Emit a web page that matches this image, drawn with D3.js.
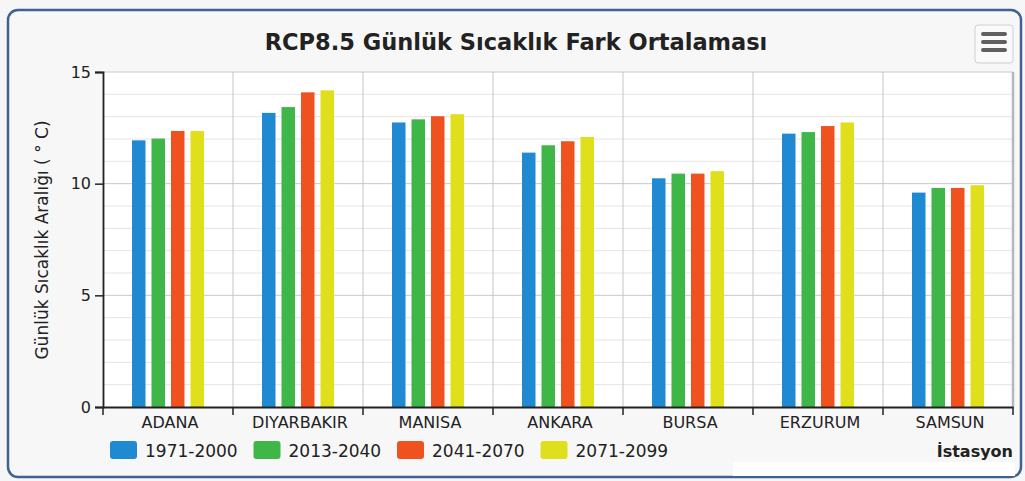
<!DOCTYPE html>
<html>
<head>
<meta charset="utf-8">
<script src="https://cdn.jsdelivr.net/npm/d3@7"></script>
<style>
  html, body { margin: 0; padding: 0; background: #f6f6f6; }
  svg { display: block; }
  text { font-family: "DejaVu Sans", sans-serif; fill: #222; }
</style>
</head>
<body>
<svg id="chart" width="1025" height="481"></svg>
<script>
// Stations (categories) along the x axis
const stations = ["ADANA", "DIYARBAKIR", "MANISA", "ANKARA", "BURSA", "ERZURUM", "SAMSUN"];
// Periods (series)
const periods = ["1971-2000", "2013-2040", "2041-2070", "2071-2099"];
// Mean daily temperature range (°C) per station, one array per period
const v1971_2000 = [11.94, 13.17, 12.74, 11.39, 10.24, 12.24, 9.60];
const v2013_2040 = [12.02, 13.43, 12.88, 11.72, 10.45, 12.31, 9.81];
const v2041_2070 = [12.36, 14.09, 13.02, 11.90, 10.45, 12.58, 9.81];
const v2071_2099 = [12.36, 14.18, 13.11, 12.09, 10.56, 12.74, 9.93];
const seriesValues = [v1971_2000, v2013_2040, v2041_2070, v2071_2099];
const seriesColors = ["#1f8ad2", "#3fb648", "#f0521f", "#dfdf1c"];
// Axis ticks
const yMajorTicks = [0, 5, 10, 15];
const yMinorTicks = d3.range(0, 16, 1);

const svg = d3.select("#chart");
const condensed = "DejaVu Sans Condensed, DejaVu Sans, sans-serif";

// Outer chart frame
svg.append("rect")
  .attr("x", 8).attr("y", 10).attr("width", 1013).attr("height", 467)
  .attr("rx", 10).attr("ry", 10)
  .attr("fill", "#f7f7f7")
  .attr("stroke", "#3f6290").attr("stroke-width", 2.5);

// Bright strip along the lower right of the frame
svg.append("rect")
  .attr("x", 733).attr("y", 462).attr("width", 282).attr("height", 14)
  .attr("fill", "#ffffff");

const plot = { left: 103, right: 1013, top: 72, bottom: 407 };

const x0 = d3.scaleBand().domain(stations).range([plot.left, plot.right]).padding(0);
const x1 = d3.scaleBand().domain(periods)
  .range([29, 29 + 72]).paddingInner(6 / 19.5).paddingOuter(0);
const y = d3.scaleLinear().domain([0, 15]).range([plot.bottom, plot.top]);

// Plot background
svg.append("rect")
  .attr("x", plot.left).attr("y", plot.top)
  .attr("width", plot.right - plot.left).attr("height", plot.bottom - plot.top)
  .attr("fill", "#ffffff");

// Minor horizontal grid
svg.append("g")
  .selectAll("line").data(yMinorTicks.filter(t => !yMajorTicks.includes(t)))
  .join("line")
  .attr("x1", plot.left).attr("x2", plot.right)
  .attr("y1", d => y(d)).attr("y2", d => y(d))
  .attr("stroke", "#e4e4e4").attr("stroke-width", 1);

// Major horizontal grid
svg.append("g")
  .selectAll("line").data(yMajorTicks.filter(t => t > 0))
  .join("line")
  .attr("x1", plot.left).attr("x2", plot.right)
  .attr("y1", d => y(d)).attr("y2", d => y(d))
  .attr("stroke", "#c8c8c8").attr("stroke-width", 1);

// Vertical grid at category boundaries
svg.append("g")
  .selectAll("line").data(stations.slice(1))
  .join("line")
  .attr("x1", d => x0(d)).attr("x2", d => x0(d))
  .attr("y1", plot.top).attr("y2", plot.bottom)
  .attr("stroke", "#c4c4c4").attr("stroke-width", 1);

// Plot right edge
svg.append("line")
  .attr("x1", plot.right).attr("x2", plot.right)
  .attr("y1", plot.top).attr("y2", plot.bottom)
  .attr("stroke", "#b8b8b8").attr("stroke-width", 2.5);

// Bars
const groups = svg.append("g").selectAll("g").data(stations)
  .join("g")
  .attr("transform", d => `translate(${x0(d)},0)`);
groups.selectAll("rect")
  .data((d, i) => periods.map((p, s) => ({ p, s, v: seriesValues[s][i] })))
  .join("rect")
  .attr("x", d => x1(d.p))
  .attr("y", d => y(d.v))
  .attr("width", x1.bandwidth())
  .attr("height", d => y(0) - y(d.v))
  .attr("fill", d => seriesColors[d.s]);

// Y axis
const yAxis = svg.append("g")
  .attr("transform", `translate(${plot.left},0)`)
  .call(d3.axisLeft(y).tickValues(yMajorTicks).tickSize(8).tickPadding(4).tickFormat(d3.format("d")));
yAxis.select(".domain").attr("stroke", "#222").attr("stroke-width", 1.8);
yAxis.selectAll(".tick line").attr("stroke", "#222").attr("stroke-width", 1.5);
yAxis.selectAll(".tick text").attr("font-size", 16).attr("fill", "#222")
  .attr("font-family", condensed);

// X axis
const xAxis = svg.append("g")
  .attr("transform", `translate(0,${plot.bottom})`)
  .call(d3.axisBottom(x0).tickSize(0).tickPadding(10));
xAxis.select(".domain").attr("stroke", "#222").attr("stroke-width", 1.8);
xAxis.selectAll(".tick text").attr("font-size", 16).attr("fill", "#222")
  .attr("font-family", condensed)
  .attr("dx", 2);
// Tick marks at category boundaries
svg.append("g").selectAll("line")
  .data(stations.map(s => x0(s)).concat([plot.right]))
  .join("line")
  .attr("x1", d => d).attr("x2", d => d)
  .attr("y1", plot.bottom).attr("y2", plot.bottom + 8)
  .attr("stroke", "#222").attr("stroke-width", 1.5);

// Title
svg.append("text")
  .attr("x", 516).attr("y", 50)
  .attr("text-anchor", "middle")
  .attr("font-family", condensed)
  .attr("font-weight", "bold").attr("font-size", 22.5)
  .text("RCP8.5 Günlük Sıcaklık Fark Ortalaması");

// Y axis title
svg.append("text")
  .attr("transform", "translate(48,240) rotate(-90)")
  .attr("text-anchor", "middle")
  .attr("font-family", condensed)
  .attr("font-size", 17)
  .text("Günlük Sıcaklık Aralığı ( ° C)");

// X axis title
svg.append("text")
  .attr("x", 1013).attr("y", 457)
  .attr("text-anchor", "end")
  .attr("font-family", condensed)
  .attr("font-weight", "bold").attr("font-size", 16)
  .text("İstasyon");

// Legend
const legend = svg.append("g").attr("transform", "translate(110,441)");
const item = legend.selectAll("g").data(periods).join("g")
  .attr("transform", (d, i) => `translate(${i * 143.5},0)`);
item.append("rect")
  .attr("x", 0).attr("y", 0).attr("width", 27).attr("height", 18)
  .attr("rx", 3).attr("fill", (d, i) => seriesColors[i]);
item.append("text")
  .attr("x", 35).attr("y", 15.5)
  .attr("font-size", 17)
  .attr("font-family", condensed)
  .text(d => d);

// Export menu button
const menu = svg.append("g").attr("transform", "translate(975,25)");
menu.append("rect").attr("width", 38).attr("height", 38).attr("rx", 3)
  .attr("fill", "#fafafa").attr("stroke", "#cfcfcf").attr("stroke-width", 1);
menu.selectAll("line").data([9, 17, 25]).join("line")
  .attr("x1", 8).attr("x2", 30).attr("y1", d => d).attr("y2", d => d)
  .attr("stroke", "#606060").attr("stroke-width", 4).attr("stroke-linecap", "round");
</script>
</body>
</html>
